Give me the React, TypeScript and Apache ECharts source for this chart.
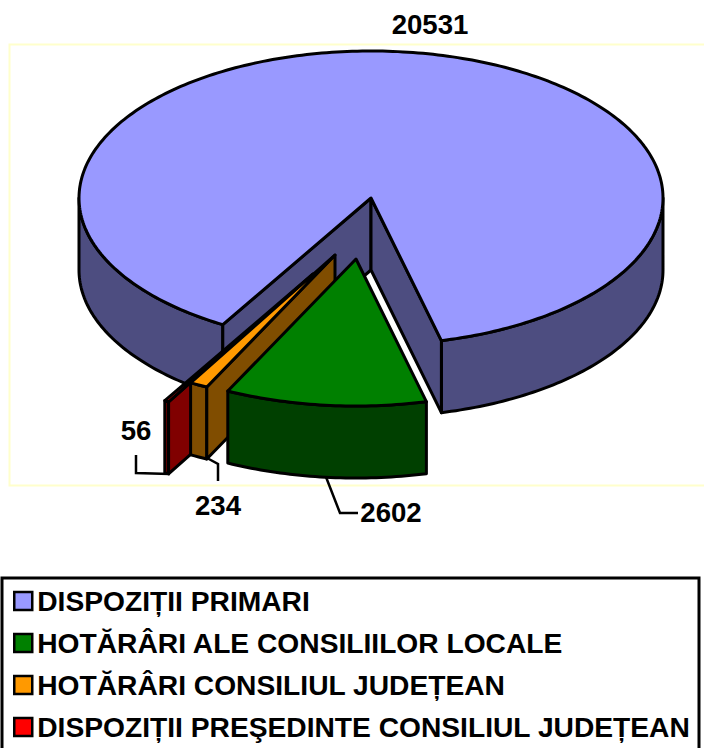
import React, { useEffect, useRef } from "react";
import * as echarts from "echarts";

const categories = [
  "DISPOZIȚII PRIMARI",
  "HOTĂRÂRI ALE CONSILIILOR LOCALE",
  "HOTĂRÂRI CONSILIUL JUDEȚEAN",
  "DISPOZIȚII PREŞEDINTE CONSILIUL JUDEȚEAN",
];
const values = [20531, 2602, 234, 56];
const topColors = ["#9999FF", "#008000", "#FF9900", "#FF0000"];
const wallColors = ["#4D4D80", "#004000", "#804D00", "#800000"];
const startAngle = 210.5;

// pie projection
const CX = 371, CY = 198, RX = 292, RY = 147, DEPTH = 72;
// exploded apex offsets, per slice
const OFFSETS = [[0, 0], [-15, 61], [-36, 57], [-58, 76]];
// label and leader line layout
const LABELS = [
  { x: 430, y: 25, line: null },
  { x: 391, y: 513, line: [[326, 477], [340, 513], [358, 513]] },
  { x: 218, y: 506, line: [[207, 458], [218, 464], [218, 481]] },
  { x: 136, y: 431, line: [[170, 474], [136, 473], [136, 455]] },
];

const FONT = "'Liberation Sans', Arial, sans-serif";
const total = values.reduce((a, b) => a + b, 0);
const spans = values.map((v) => (v / total) * 360);
const starts = spans.map((_, i) => startAngle + spans.slice(0, i).reduce((a, b) => a + b, 0));

const pt = (i: number, deg: number, r = 1, dz = 0): number[] => {
  const t = (deg * Math.PI) / 180;
  return [
    CX + OFFSETS[i][0] + r * RX * Math.sin(t),
    CY + OFFSETS[i][1] - r * RY * Math.cos(t) + dz,
  ];
};

const arc = (i: number, a: number, b: number, dz = 0): number[][] => {
  const n = Math.max(2, Math.ceil(Math.abs(b - a)));
  const out: number[][] = [];
  for (let k = 0; k <= n; k++) out.push(pt(i, a + ((b - a) * k) / n, 1, dz));
  return out;
};

const stroke = { stroke: "#000", lineWidth: 3, lineJoin: "round" as const };

const poly = (points: number[][], fill: string) => ({
  type: "polygon",
  shape: { points },
  style: { fill, ...stroke },
});

// walls visible to the viewer lie in the lower half of the ellipse (90°..270° clockwise from top)
const wallRanges = (a: number, b: number): number[][] => {
  const out: number[][] = [];
  for (const [lo, hi] of [[90, 270], [450, 630]]) {
    const s = Math.max(a, lo), e = Math.min(b, hi);
    if (e > s) out.push([s, e]);
  }
  return out;
};

function sliceChildren(i: number) {
  const a = starts[i], b = a + spans[i];
  const wall = wallColors[i], top = topColors[i];
  const apex = pt(i, 0, 0);
  const apexLow = pt(i, 0, 0, DEPTH);
  const kids: any[] = [];
  for (const [s, e] of wallRanges(a, b)) {
    kids.push(poly([...arc(i, s, e), ...arc(i, e, s, DEPTH)], wall));
  }
  if (i === 0) {
    const pa = pt(i, a), pb = pt(i, b);
    kids.push(poly([apex, pa, [pa[0], pa[1] + DEPTH], apexLow], wall));
    kids.push(poly([apex, pb, [pb[0], pb[1] + DEPTH], apexLow], wall));
  } else if (i > 1) {
    const pa = pt(i, a);
    kids.push(poly([apex, pa, [pa[0], pa[1] + DEPTH], apexLow], wall));
  }
  kids.push(poly([apex, ...arc(i, a, b)], top));
  return kids;
}

function labelChildren(i: number) {
  const l = LABELS[i];
  const kids: any[] = [];
  if (l.line) {
    kids.push({
      type: "polyline",
      shape: { points: l.line },
      style: { fill: "none", stroke: "#000", lineWidth: 2.5 },
    });
  }
  kids.push({
    type: "text",
    x: l.x,
    y: l.y - 0.5,
    style: {
      text: String(values[i]),
      fill: "#000",
      font: `bold 27.6px ${FONT}`,
      align: "center",
      verticalAlign: "middle",
    },
  });
  return kids;
}

export default function App() {
  const ref = useRef<HTMLDivElement>(null);
  useEffect(() => {
    const chart = echarts.init(ref.current!, null, { renderer: "svg" });
    // drawn back to front: main slice, then red, orange, green
    const zOrder = [0, 3, 2, 1];
    chart.setOption({
      animation: false,
      backgroundColor: "#fff",
      legend: {
        orient: "vertical",
        left: 13,
        top: 587,
        padding: 0,
        itemWidth: 18,
        itemHeight: 18,
        itemGap: 14,
        icon: "rect",
        selectedMode: false,
        textStyle: { fontFamily: FONT, fontWeight: "bold", fontSize: 28.2, lineHeight: 28, color: "#000" },
        data: categories.map((name, i) => ({
          name,
          icon: "rect",
          itemStyle: { color: topColors[i], borderColor: "#000", borderWidth: 2.5 },
        })),
      },
      graphic: [
        {
          type: "rect",
          z: -1,
          shape: { x: 9.5, y: 44.5, width: 700, height: 441 },
          style: { fill: "#fff", stroke: "#FFFFCC", lineWidth: 2 },
        },
        {
          type: "rect",
          z: -1,
          shape: { x: 2, y: 578, width: 697, height: 180 },
          style: { fill: "#fff", stroke: "#000", lineWidth: 3 },
        },
      ],
      series: [
        ...zOrder.map((i, order) => ({
          type: "custom",
          name: categories[i],
          coordinateSystem: "none",
          z: 2 + order,
          itemStyle: { color: topColors[i] },
          data: [[values[i]]],
          renderItem: () => ({ type: "group", children: sliceChildren(i) }),
        })),
        {
          type: "custom",
          name: "labels",
          coordinateSystem: "none",
          z: 10,
          data: values.map((v) => [v]),
          renderItem: (p: any) => ({ type: "group", children: labelChildren(p.dataIndex) }),
        },
      ],
    });
    return () => chart.dispose();
  }, []);
  return <div ref={ref} style={{ position: "absolute", left: 0, top: 0, width: 704, height: 748 }} />;
}
